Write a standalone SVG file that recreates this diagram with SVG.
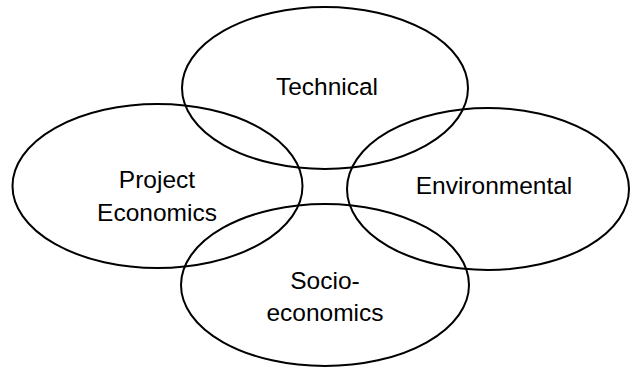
<svg xmlns="http://www.w3.org/2000/svg" width="639" height="367" viewBox="0 0 639 367">
<style>
.e{fill:none;stroke:#000;stroke-width:2}
.t{font-family:"Liberation Sans",Arial,sans-serif;font-size:24.5px;fill:#000;text-anchor:middle}
</style>
<rect width="639" height="367" fill="#fff"/>
<g id="technical"><ellipse class="e" cx="325" cy="88" rx="143" ry="81"/><text class="t" x="327" y="95">Technical</text></g>
<g id="project-economics"><ellipse class="e" cx="157.5" cy="186" rx="145" ry="82"/><text class="t" x="157" y="188">Project</text><text class="t" x="157" y="221">Economics</text></g>
<g id="environmental"><ellipse class="e" cx="488" cy="189" rx="141" ry="81"/><text class="t" x="494" y="194">Environmental</text></g>
<g id="socio-economics"><ellipse class="e" cx="325" cy="285" rx="144" ry="81"/><text class="t" x="325" y="289">Socio-</text><text class="t" x="325" y="321">economics</text></g>
<g id="connectors"/>
</svg>
